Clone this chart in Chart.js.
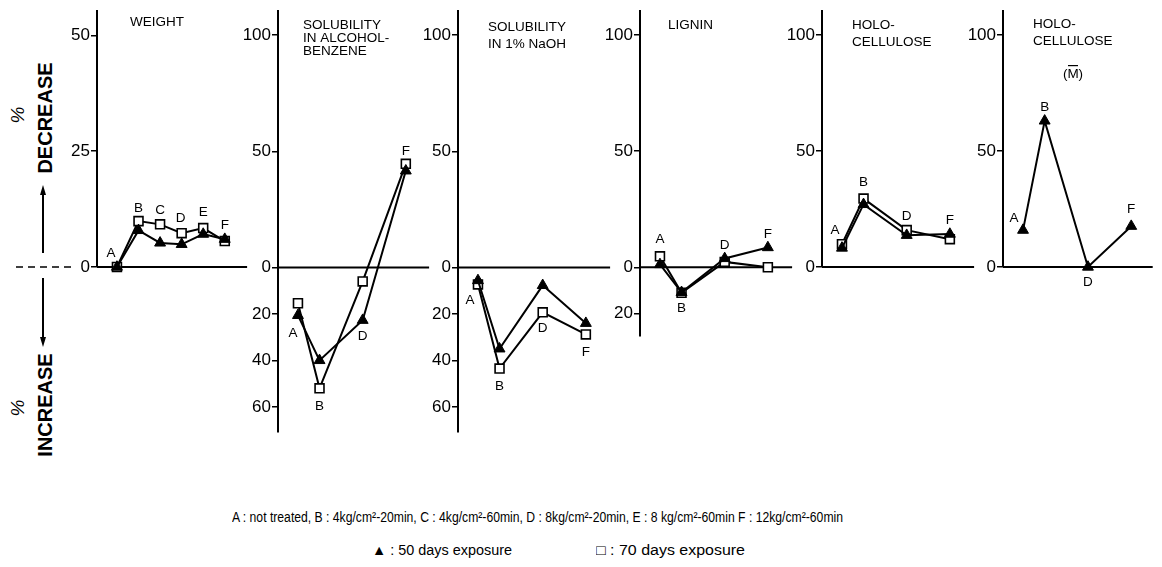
<!DOCTYPE html>
<html>
<head>
<meta charset="utf-8">
<script src="https://cdn.jsdelivr.net/npm/chart.js@4"></script>
<style>
  body { margin: 0; width: 1162px; height: 567px; background: #fff; position: relative; overflow: hidden;
         font-family: "Liberation Sans", Arial, sans-serif; color: #000; }
  canvas.panel { position: absolute; top: 0; }
  .side { position: absolute; transform: translate(-50%, -50%) rotate(-90deg); white-space: nowrap; line-height: 1; }
  .side.word { font-weight: bold; font-size: 20px; }
  .side.pct { font-style: italic; font-size: 19px; }
  .note { position: absolute; white-space: nowrap; font-family: "Liberation Sans Narrow", "Liberation Sans", sans-serif;
          font-size: 14px; line-height: 1; transform-origin: 0 50%; }
</style>
</head>
<body>
<div class="side pct" style="left:17px;top:115px">%</div>
<div class="side word" style="left:45px;top:118px">DECREASE</div>
<div class="side pct" style="left:17px;top:408px">%</div>
<div class="side word" style="left:45px;top:405px">INCREASE</div>

<div class="note" data-w="611" style="left:232px;top:510px">A : not treated, B : 4kg/cm²-20min, C : 4kg/cm²-60min, D : 8kg/cm²-20min, E : 8 kg/cm²-60min F : 12kg/cm²-60min</div>
<div class="note" data-w="140" style="left:372px;top:543px">▲ : 50 days exposure</div>
<div class="note" data-w="149" style="left:596px;top:543px">□ : 70 days exposure</div>

<script>
// treatments, plotted at x = 1..6
const treatments = ['A', 'B', 'C', 'D', 'E', 'F'];

// % decrease (negative = increase), 50 and 70 days exposure
const weightKeys = ['A', 'B', 'C', 'D', 'E', 'F'];
const weight50 = [0, 7.9, 5.2, 4.9, 7.1, 6.0];
const weight70 = [0, 9.9, 9.2, 7.3, 8.4, 5.6];

const alcoholKeys = ['A', 'B', 'D', 'F'];
const alcohol50 = [-20.6, -40, -22.7, 41.6];
const alcohol70 = [-15.4, -52, -6, 44.6];

const naohKeys = ['A', 'B', 'D', 'F'];
const naoh50 = [-5.6, -35, -7.7, -24];
const naoh70 = [-7.3, -43.5, -19.3, -28.8];

const ligninKeys = ['A', 'B', 'D', 'F'];
const lignin50 = [1.2, -10.8, 3.8, 8.5];
const lignin70 = [4.7, -11, 2.3, 0];

const holoKeys = ['A', 'B', 'D', 'F'];
const holo50 = [8.2, 27, 13.7, 14.2];
const holo70 = [9.8, 29.5, 15.9, 12];

const holoMKeys = ['A', 'B', 'D', 'F'];
const holoM50 = [15.9, 63, 0, 17.6];

// tick labels per panel
const weightTicks = [0, 25, 50];
const wideTicks = [-60, -40, -20, 0, 50, 100];
const ligninTicks = [-20, 0, 50, 100];
const upTicks = [0, 50, 100];

const H = 470;        // canvas height
const TOP = 10;       // top of every axis
const STEP = 22.7;    // px between treatments
const FIRST = 21;     // px from axis to treatment A

// squeeze the footnote lines to their set widths
document.querySelectorAll('.note').forEach(el => {
  const w = el.getBoundingClientRect().width;
  el.style.transform = 'scaleX(' + (el.dataset.w / w) + ')';
});

function pts(keys, vals) {
  return keys.map((k, i) => ({ x: treatments.indexOf(k) + 1, y: vals[i], key: k }));
}

const deco = {
  id: 'deco',
  beforeDatasetsDraw(chart, args, o) {
    const { ctx, chartArea } = chart;
    const y0 = chart.scales.y.getPixelForValue(0);
    ctx.save();
    ctx.strokeStyle = '#000';
    ctx.lineWidth = 2;
    ctx.beginPath();
    ctx.moveTo(chartArea.left, y0);
    ctx.lineTo(chartArea.right, y0);
    ctx.stroke();
    if (o.side) {
      // dashed lead-in and the two arrows at the far left
      ctx.lineWidth = 1.5;
      ctx.setLineDash([7, 5]);
      ctx.beginPath(); ctx.moveTo(16, y0); ctx.lineTo(74, y0); ctx.stroke();
      ctx.setLineDash([]);
      ctx.lineWidth = 2;
      const arrow = (yFrom, yTo) => {
        const d = Math.sign(yTo - yFrom);
        ctx.beginPath(); ctx.moveTo(43, yFrom); ctx.lineTo(43, yTo - d * 4); ctx.stroke();
        ctx.beginPath(); ctx.moveTo(43, yTo); ctx.lineTo(40, yTo - d * 10); ctx.lineTo(46, yTo - d * 10); ctx.closePath(); ctx.fill();
      };
      arrow(y0 - 14, 185);
      arrow(y0 + 11, 347);
    }
    ctx.restore();
  },
  afterDatasetsDraw(chart, args, o) {
    const { ctx, chartArea } = chart;
    ctx.save();
    ctx.fillStyle = '#000';
    ctx.font = '13.5px "Liberation Sans", Arial, sans-serif';
    ctx.textBaseline = 'middle';
    ctx.textAlign = 'left';
    (o.title || []).forEach((line, i) => {
      ctx.fillText(line, chartArea.left + o.titleX, o.titleY[i]);
    });
    if (o.extra) {
      ctx.textAlign = 'center';
      ctx.fillText(o.extra.text, chartArea.left + o.extra.x, o.extra.y);
      // bar over the M
      ctx.fillRect(chartArea.left + o.extra.x - 5, o.extra.y - 9, 10, 1.2);
    }
    ctx.textAlign = 'center';
    ctx.font = '13.5px "Liberation Sans", Arial, sans-serif';
    const meta = chart.getDatasetMeta(0);
    meta.data.forEach((el, i) => {
      const off = o.offsets[i];
      ctx.fillText(chart.data.datasets[0].data[i].key, el.x + off[0], el.y + off[1]);
    });
    ctx.restore();
  }
};

function makePanel(cfg) {
  const canvas = document.createElement('canvas');
  canvas.className = 'panel';
  const left = cfg.canvasLeft != null ? cfg.canvasLeft : cfg.axisX - 45;
  canvas.width = cfg.right - left;
  canvas.height = H;
  canvas.style.left = left + 'px';
  document.body.appendChild(canvas);
  const axisW = cfg.axisX - left;
  const xmin = 1 - FIRST / STEP;
  const xmax = xmin + (cfg.right - cfg.axisX) / STEP;

  const datasets = [{
    data: cfg.s50,
    borderColor: '#000', borderWidth: 2,
    pointStyle: 'triangle', pointRadius: 6.3,
    pointBackgroundColor: '#000', pointBorderColor: '#000', pointBorderWidth: 1,
    clip: false
  }];
  if (cfg.s70) {
    datasets.push({
      data: cfg.s70,
      borderColor: '#000', borderWidth: 2,
      pointStyle: 'rect', pointRadius: 6.3,
      pointBackgroundColor: '#fff', pointBorderColor: '#000', pointBorderWidth: 1.6,
      clip: false
    });
  }

  new Chart(canvas, {
    type: 'line',
    data: { datasets },
    options: {
      responsive: false,
      animation: false,
      events: [],
      layout: { padding: { top: TOP, bottom: H - cfg.bottom, left: 0, right: 0 } },
      plugins: {
        legend: { display: false },
        tooltip: { enabled: false },
        deco: { title: cfg.title, titleX: cfg.titleX, titleY: cfg.titleY, offsets: cfg.offsets, side: cfg.side, extra: cfg.extra }
      },
      scales: {
        x: { type: 'linear', display: false, min: xmin, max: xmax },
        y: {
          min: cfg.ymin, max: cfg.ymax,
          afterFit(scale) { scale.width = axisW; },
          afterBuildTicks(scale) { scale.ticks = cfg.ticks.map(v => ({ value: v })); },
          border: { color: '#000', width: 2 },
          grid: { drawOnChartArea: false, color: '#000', lineWidth: 1.5, tickLength: 6 },
          ticks: { color: '#000', padding: 1, font: { family: '"Liberation Sans", Arial, sans-serif', size: 17 },
                   callback: v => Math.abs(v) }
        }
      }
    },
    plugins: [deco]
  });
}

const U = 257 / 110.3;   // px per unit on the 0–100 panels

makePanel({
  canvasLeft: 0, axisX: 97, right: 255, bottom: 267, ymin: 0, ymax: 55.2,
  ticks: weightTicks, s50: pts(weightKeys, weight50), s70: pts(weightKeys, weight70),
  title: ['WEIGHT'], titleX: 33, titleY: [22], side: true,
  offsets: [[-6, -14], [0, -22], [0, -33], [-1, -26], [0, -22], [0, -14]]
});
makePanel({
  axisX: 278, right: 437, bottom: 432, ymin: -165 / U, ymax: 110.3,
  ticks: wideTicks, s50: pts(alcoholKeys, alcohol50), s70: pts(alcoholKeys, alcohol70),
  title: ['SOLUBILITY', 'IN ALCOHOL-', 'BENZENE'], titleX: 25, titleY: [25, 38, 51],
  offsets: [[-5, 18], [0, 46], [0, 16], [0, -20]]
});
makePanel({
  axisX: 458, right: 618, bottom: 432, ymin: -165 / U, ymax: 110.3,
  ticks: wideTicks, s50: pts(naohKeys, naoh50), s70: pts(naohKeys, naoh70),
  title: ['SOLUBILITY', 'IN 1% NaOH'], titleX: 30, titleY: [27, 44],
  offsets: [[-8, 20], [0, 37], [0, 43], [0, 29]]
});
makePanel({
  axisX: 640, right: 800, bottom: 336, ymin: -69 / U, ymax: 110.3,
  ticks: ligninTicks, s50: pts(ligninKeys, lignin50), s70: pts(ligninKeys, lignin70),
  title: ['LIGNIN'], titleX: 28, titleY: [25],
  offsets: [[0, -25], [0, 16], [0, -13], [0, -13]]
});
makePanel({
  axisX: 822, right: 982, bottom: 267, ymin: 0, ymax: 110.3,
  ticks: upTicks, s50: pts(holoKeys, holo50), s70: pts(holoKeys, holo70),
  title: ['HOLO-', 'CELLULOSE'], titleX: 30, titleY: [25, 42],
  offsets: [[-7, -18], [0, -22], [0, -19], [0, -14]]
});
makePanel({
  axisX: 1003, right: 1160, bottom: 267, ymin: 0, ymax: 110.3,
  ticks: upTicks, s50: pts(holoMKeys, holoM50),
  title: ['HOLO-', 'CELLULOSE'], titleX: 30, titleY: [24, 41],
  extra: { text: '(M)', x: 70, y: 74 },
  offsets: [[-9, -12], [0, -14], [0, 15], [0, -17]]
});
</script>
</body>
</html>
